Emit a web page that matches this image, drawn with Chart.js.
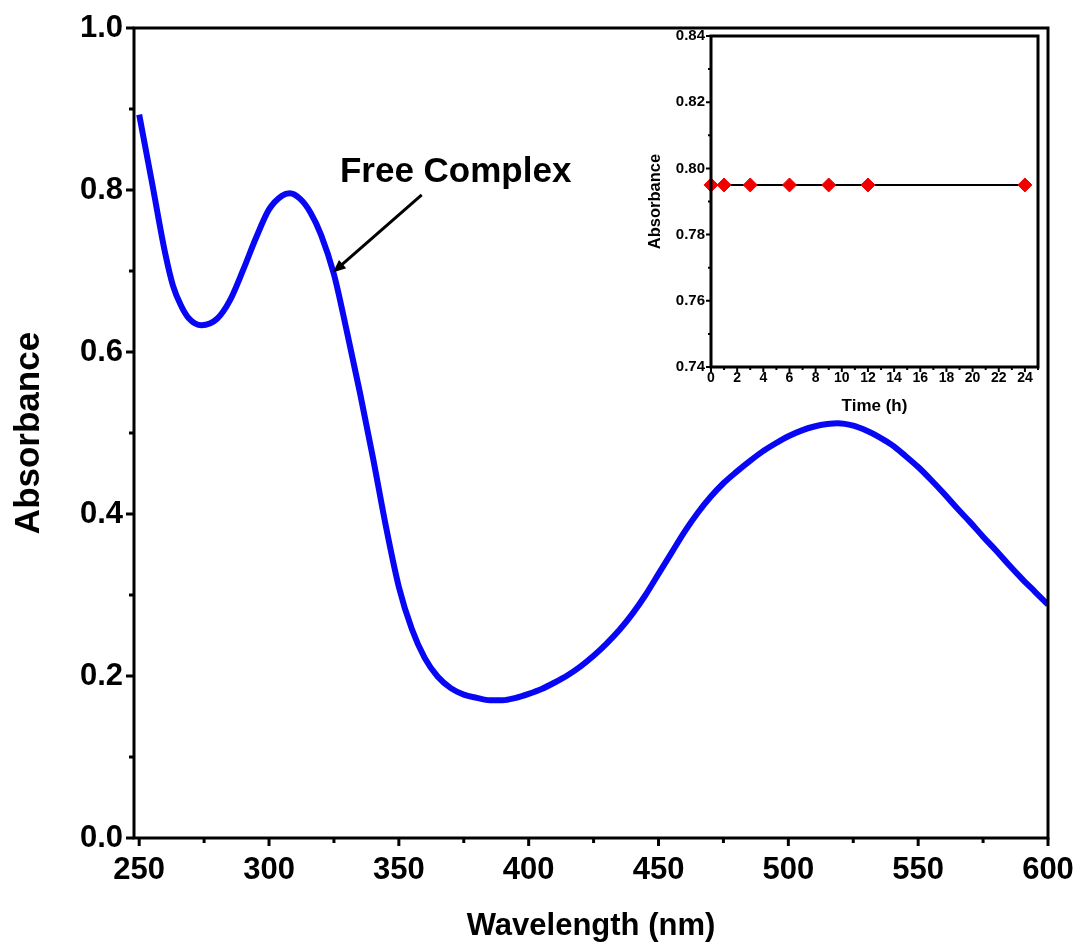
<!DOCTYPE html>
<html>
<head>
<meta charset="utf-8">
<script src="https://cdn.jsdelivr.net/npm/chart.js@4"></script>
<style>
  body { margin: 0; background: #fff; }
  #wrap { position: relative; width: 1078px; height: 949px; }
  #main { position: absolute; left: 0; top: 0; }
  #inset { position: absolute; left: 630px; top: 28px; }
</style>
</head>
<body>
<div id="wrap">
  <canvas id="main" width="1078" height="949"></canvas>
  <canvas id="inset" width="416" height="400"></canvas>
</div>
<script>
// main spectrum
var wavelength = [250,255,260,263,266,269,274,280,285,290,295,300,305,308,312,316,320,325,330,335,340,
  345,350,355,360,365,370,375,380,385,390,395,400,405,410,415,420,425,430,435,440,
  445,450,455,460,465,470,475,480,485,490,495,500,505,510,515,519,525,530,535,540,
  545,550,555,560,565,570,575,580,585,590,595,600];
var absorbance = [0.893,0.808,0.722,0.682,0.658,0.642,0.633,0.641,0.664,0.701,0.741,0.776,0.793,0.796,0.789,0.772,0.745,0.696,0.625,0.550,0.470,
  0.385,0.310,0.258,0.222,0.199,0.185,0.177,0.173,0.170,0.170,0.173,0.178,0.184,0.192,0.201,0.212,0.225,0.240,0.257,0.277,
  0.300,0.326,0.352,0.378,0.401,0.421,0.438,0.452,0.465,0.477,0.487,0.496,0.503,0.508,0.511,0.512,0.509,0.503,0.495,0.485,
  0.472,0.458,0.442,0.425,0.407,0.390,0.372,0.355,0.337,0.320,0.304,0.288];
var xTicks = [250,300,350,400,450,500,550,600];
var xMinor = [275,325,375,425,475,525,575];
var yTicks = [0,0.2,0.4,0.6,0.8,1.0];
var yMinor = [0.1,0.3,0.5,0.7,0.9];

// inset: stability over time
var timeH = [0,1,3,6,9,12,24];
var timeAbs = [0.795,0.795,0.795,0.795,0.795,0.795,0.795];
var tTicks = [0,2,4,6,8,10,12,14,16,18,20,22,24];
var tMinor = [1,3,5,7,9,11,13,15,17,19,21,23,25];
var aTicks = [0.74,0.76,0.78,0.80,0.82,0.84];
var aMinor = [0.75,0.77,0.79,0.81,0.83];

var FONT = '"Liberation Sans", Arial, sans-serif';

// frame + tick marks drawn by hand (major/minor with different lengths)
var frameTicks = {
  id: 'frameTicks',
  afterDraw: function(chart, args, o) {
    var ctx = chart.ctx, a = chart.chartArea;
    var xs = chart.scales.x, ys = chart.scales.y;
    ctx.save();
    ctx.strokeStyle = '#000';
    ctx.lineWidth = o.lw;
    ctx.strokeRect(a.left, a.top, a.right - a.left, a.bottom - a.top);
    ctx.beginPath();
    o.xMajor.forEach(function(v){ var p = xs.getPixelForValue(v); ctx.moveTo(p, a.bottom); ctx.lineTo(p, a.bottom + o.major); });
    o.xMinor.forEach(function(v){ var p = xs.getPixelForValue(v); ctx.moveTo(p, a.bottom); ctx.lineTo(p, a.bottom + o.minor); });
    o.yMajor.forEach(function(v){ var p = ys.getPixelForValue(v); ctx.moveTo(a.left, p); ctx.lineTo(a.left - o.major, p); });
    o.yMinor.forEach(function(v){ var p = ys.getPixelForValue(v); ctx.moveTo(a.left, p); ctx.lineTo(a.left - o.minor, p); });
    ctx.lineWidth = o.tw;
    ctx.stroke();
    ctx.restore();
  }
};

// "Free Complex" label with arrow, positioned in data units
var note = {text: 'Free Complex', tx: 327.3, ty: 0.81, fromX: 358.8, fromY: 0.794, toX: 324.6, toY: 0.698};
var arrowLabel = {
  id: 'arrowLabel',
  afterDraw: function(chart) {
    if (chart.canvas.id != 'main') return;
    var ctx = chart.ctx, xs = chart.scales.x, ys = chart.scales.y;
    var x1 = xs.getPixelForValue(note.fromX), y1 = ys.getPixelForValue(note.fromY);
    var x2 = xs.getPixelForValue(note.toX), y2 = ys.getPixelForValue(note.toY);
    var ang = Math.atan2(y2 - y1, x2 - x1), h = 14;
    ctx.save();
    ctx.fillStyle = '#000'; ctx.strokeStyle = '#000';
    ctx.font = 'bold 35px ' + FONT;
    ctx.textBaseline = 'alphabetic';
    ctx.fillText(note.text, xs.getPixelForValue(note.tx), ys.getPixelForValue(note.ty));
    ctx.lineWidth = 3;
    ctx.beginPath();
    ctx.moveTo(x1, y1);
    ctx.lineTo(x2 - Math.cos(ang) * h * 0.8, y2 - Math.sin(ang) * h * 0.8);
    ctx.stroke();
    ctx.beginPath();
    ctx.moveTo(x2, y2);
    ctx.lineTo(x2 - h * Math.cos(ang - 0.4), y2 - h * Math.sin(ang - 0.4));
    ctx.lineTo(x2 - h * Math.cos(ang + 0.4), y2 - h * Math.sin(ang + 0.4));
    ctx.closePath();
    ctx.fill();
    ctx.restore();
  }
};

function pts(xs, ys) {
  return xs.map(function(v, i){ return {x: v, y: ys[i]}; });
}
function fixTicks(list) {
  return function(scale){ scale.ticks = list.map(function(v){ return {value: v}; }); };
}

new Chart(document.getElementById('main'), {
  type: 'line',
  data: {
    datasets: [{
      data: pts(wavelength, absorbance),
      borderColor: '#0707f5',
      borderWidth: 6,
      pointRadius: 0,
      cubicInterpolationMode: 'monotone',
      fill: false
    }]
  },
  options: {
    responsive: false,
    animation: false,
    layout: {padding: {top: 28, right: 30, left: 0, bottom: 0}},
    plugins: {
      legend: {display: false},
      tooltip: {enabled: false},
      frameTicks: {lw: 3, tw: 3, major: 8, minor: 5, xMajor: xTicks, xMinor: xMinor, yMajor: yTicks, yMinor: yMinor}
    },
    scales: {
      x: {
        type: 'linear', min: 248, max: 600,
        afterBuildTicks: fixTicks(xTicks),
        afterFit: function(s){ s.height = 111; s.paddingLeft = 0; s.paddingRight = 0; },
        grid: {display: false, drawTicks: false},
        border: {display: false},
        ticks: {color: '#000', padding: 14, font: {family: FONT, size: 31, weight: 'bold'}},
        title: {display: true, text: 'Wavelength (nm)', color: '#000', padding: {top: 0, bottom: 4},
          font: {family: FONT, size: 31, weight: 'bold'}}
      },
      y: {
        min: 0, max: 1.0,
        afterBuildTicks: fixTicks(yTicks),
        afterFit: function(s){ s.width = 134; s.paddingTop = 0; s.paddingBottom = 0; },
        grid: {display: false, drawTicks: false},
        border: {display: false},
        ticks: {color: '#000', padding: 11, font: {family: FONT, size: 31, weight: 'bold'},
          callback: function(v){ return v.toFixed(1); }},
        title: {display: true, text: 'Absorbance', color: '#000', padding: {top: 8, bottom: 0},
          font: {family: FONT, size: 35, weight: 'bold'}}
      }
    }
  },
  plugins: [frameTicks, arrowLabel]
});

new Chart(document.getElementById('inset'), {
  type: 'line',
  data: {
    datasets: [{
      data: pts(timeH, timeAbs),
      borderColor: '#000',
      borderWidth: 2,
      pointStyle: 'rectRot',
      pointRadius: 7,
      pointBackgroundColor: '#f20000',
      pointBorderColor: '#f20000',
      pointBorderWidth: 1,
      clip: 12
    }]
  },
  options: {
    responsive: false,
    animation: false,
    layout: {padding: {top: 8, right: 0, left: 0, bottom: 0}},
    plugins: {
      legend: {display: false},
      tooltip: {enabled: false},
      frameTicks: {lw: 3, tw: 2, major: 5, minor: 3, xMajor: tTicks, xMinor: tMinor, yMajor: aTicks, yMinor: aMinor}
    },
    scales: {
      x: {
        type: 'linear', min: 0, max: 25,
        afterBuildTicks: fixTicks(tTicks),
        afterFit: function(s){ s.height = 61; s.paddingLeft = 0; s.paddingRight = 0; },
        grid: {display: false, drawTicks: false},
        border: {display: false},
        ticks: {color: '#000', padding: 3, font: {family: FONT, size: 14, weight: 'bold'}},
        title: {display: true, text: 'Time (h)', color: '#000', padding: {top: 0, bottom: 11},
          font: {family: FONT, size: 17, weight: 'bold'}}
      },
      y: {
        min: 0.74, max: 0.84,
        afterBuildTicks: fixTicks(aTicks),
        afterFit: function(s){ s.width = 81; s.paddingTop = 0; s.paddingBottom = 0; },
        grid: {display: false, drawTicks: false},
        border: {display: false},
        ticks: {color: '#000', padding: 6, font: {family: FONT, size: 15, weight: 'bold'},
          callback: function(v){ return v.toFixed(2); }},
        title: {display: true, text: 'Absorbance', color: '#000', padding: {top: 16, bottom: 0},
          font: {family: FONT, size: 16.5, weight: 'bold'}}
      }
    }
  },
  plugins: [frameTicks]
});
</script>
</body>
</html>
